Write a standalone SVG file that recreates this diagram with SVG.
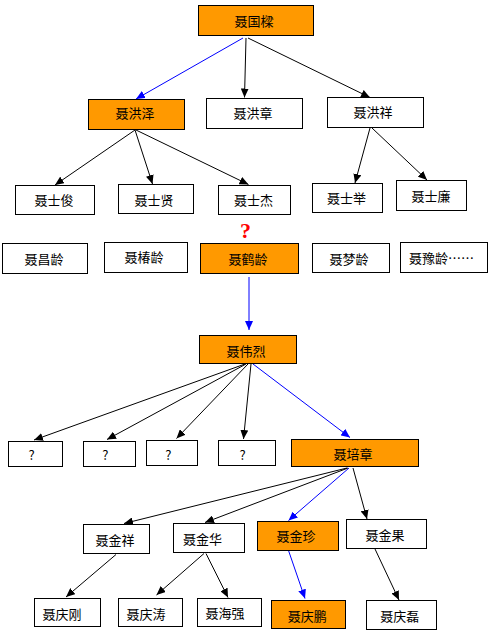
<svg xmlns="http://www.w3.org/2000/svg" width="494" height="636" viewBox="0 0 494 636">
<style>
.b{fill:#fff;stroke:#000;stroke-width:1}
.o{fill:#ff9900;stroke:#000;stroke-width:1}
text{font-family:"Noto Sans CJK SC","Noto Sans CJK JP",sans-serif;font-size:13px;fill:#000;text-anchor:middle}
.k{stroke:#000;stroke-width:1;fill:none;marker-end:url(#ak)}
.u{stroke:#0000ff;stroke-width:1;fill:none;marker-end:url(#au)}
.q{font-family:"Liberation Serif",serif;font-weight:bold;font-size:22px;fill:#ff0000}
</style>
<defs>
<marker id="ak" markerUnits="userSpaceOnUse" markerWidth="9" markerHeight="8" refX="9" refY="4" orient="auto"><path d="M0,0 L9,4 L0,8 z" fill="#000"/></marker>
<marker id="au" markerUnits="userSpaceOnUse" markerWidth="9" markerHeight="8" refX="9" refY="4" orient="auto"><path d="M0,0 L9,4 L0,8 z" fill="#0000ff"/></marker>
</defs>
<rect width="494" height="636" fill="#fff"/>
<g id="connectors">
<line class="u" x1="243" y1="38" x2="136" y2="99"/>
<line class="k" x1="246" y1="38" x2="244.5" y2="97.5"/>
<line class="k" x1="248" y1="38" x2="370" y2="97.5"/>
<line class="k" x1="135" y1="130" x2="55" y2="185"/>
<line class="k" x1="135" y1="130" x2="152.5" y2="184"/>
<line class="k" x1="136" y1="130" x2="248.5" y2="184.5"/>
<line class="k" x1="370" y1="128" x2="355" y2="183"/>
<line class="k" x1="372" y1="128" x2="427" y2="180"/>
<line class="u" x1="249" y1="277" x2="249" y2="330"/>
<line class="k" x1="245" y1="364" x2="34" y2="440"/>
<line class="k" x1="246" y1="364" x2="107" y2="439.5"/>
<line class="k" x1="248" y1="364" x2="176.5" y2="438.5"/>
<line class="k" x1="251" y1="364" x2="243.5" y2="439"/>
<line class="u" x1="253" y1="364" x2="350" y2="437.5"/>
<line class="k" x1="347" y1="468" x2="124" y2="523.5"/>
<line class="k" x1="348" y1="468" x2="205" y2="522.5"/>
<line class="u" x1="349" y1="468" x2="288.5" y2="520.5"/>
<line class="k" x1="353" y1="468" x2="367" y2="519"/>
<line class="k" x1="116" y1="554.5" x2="66" y2="597"/>
<line class="k" x1="204" y1="553.5" x2="156.5" y2="595"/>
<line class="k" x1="206" y1="553.5" x2="228" y2="597.5"/>
<line class="u" x1="288.5" y1="550.5" x2="305" y2="598.5"/>
<line class="k" x1="375" y1="549" x2="399" y2="600"/>
</g>
<g id="n1"><rect class="o" x="198.5" y="5.5" width="115" height="30"/><text x="254" y="25.5">聂国樑</text></g>
<g id="n2"><rect class="o" x="88.5" y="99.5" width="96" height="30"/><text x="135" y="118">聂洪泽</text></g>
<g id="n3"><rect class="b" x="206.5" y="98.5" width="96" height="30"/><text x="253" y="117.5">聂洪章</text></g>
<g id="n4"><rect class="b" x="327.5" y="97.5" width="96" height="30"/><text x="373" y="117">聂洪祥</text></g>
<g id="n5"><rect class="b" x="15.5" y="185.5" width="79" height="29"/><text x="54" y="205">聂士俊</text></g>
<g id="n6"><rect class="b" x="118.5" y="184.5" width="75" height="29"/><text x="154" y="204.5">聂士贤</text></g>
<g id="n7"><rect class="b" x="218.5" y="185.5" width="72" height="29"/><text x="253.5" y="205">聂士杰</text></g>
<g id="n8"><rect class="b" x="312.5" y="183.5" width="70" height="29"/><text x="346.5" y="202.5">聂士举</text></g>
<g id="n9"><rect class="b" x="396.5" y="180.5" width="70" height="30"/><text x="431" y="200.5">聂士廉</text></g>
<text class="q" x="245.5" y="237.5">?</text>
<g id="n10"><rect class="b" x="2.5" y="243.5" width="85" height="30"/><text x="44" y="263.5">聂昌龄</text></g>
<g id="n11"><rect class="b" x="104.5" y="242.5" width="83" height="30"/><text x="144" y="262">聂椿龄</text></g>
<g id="n12"><rect class="o" x="200.5" y="243.5" width="98" height="30"/><text x="248" y="263.5">聂鹤龄</text></g>
<g id="n13"><rect class="b" x="312.5" y="243.5" width="77" height="29"/><text x="349" y="263.5">聂梦龄</text></g>
<g id="n14"><rect class="b" x="400.5" y="242.5" width="87" height="30"/><text x="441.5" y="263">聂豫龄……</text></g>
<g id="n15"><rect class="o" x="199.5" y="335.5" width="97" height="28"/><text x="246" y="355.5">聂伟烈</text></g>
<g id="n16"><rect class="b" x="8.5" y="441.5" width="54" height="25"/><text x="31.7" y="460">?</text></g>
<g id="n17"><rect class="b" x="83.5" y="441.5" width="52" height="25"/><text x="105.3" y="460">?</text></g>
<g id="n18"><rect class="b" x="146.5" y="440.5" width="51" height="25"/><text x="168.3" y="459.5">?</text></g>
<g id="n19"><rect class="b" x="218.5" y="440.5" width="57" height="25"/><text x="242.7" y="459.5">?</text></g>
<g id="n20"><rect class="o" x="291.5" y="439.5" width="127" height="27"/><text x="353" y="459">聂培章</text></g>
<g id="n21"><rect class="b" x="83.5" y="524.5" width="66" height="29"/><text x="115" y="544.5">聂金祥</text></g>
<g id="n22"><rect class="b" x="173.5" y="523.5" width="71" height="29"/><text x="202.5" y="543.5">聂金华</text></g>
<g id="n23"><rect class="o" x="257.5" y="521.5" width="81" height="29"/><text x="296" y="541">聂金珍</text></g>
<g id="n24"><rect class="b" x="346.5" y="519.5" width="80" height="29"/><text x="385" y="539.5">聂金果</text></g>
<g id="n25"><rect class="b" x="34.5" y="598.5" width="66" height="28"/><text x="62" y="618.5">聂庆刚</text></g>
<g id="n26"><rect class="b" x="118.5" y="598.5" width="64" height="28"/><text x="146" y="618.5">聂庆涛</text></g>
<g id="n27"><rect class="b" x="197.5" y="598.5" width="64" height="28"/><text x="225" y="618">聂海强</text></g>
<g id="n28"><rect class="o" x="271.5" y="600.5" width="74" height="28"/><text x="307.2" y="620.5">聂庆鹏</text></g>
<g id="n29"><rect class="b" x="366.5" y="600.5" width="70" height="29"/><text x="399.7" y="620.5">聂庆磊</text></g>
</svg>
